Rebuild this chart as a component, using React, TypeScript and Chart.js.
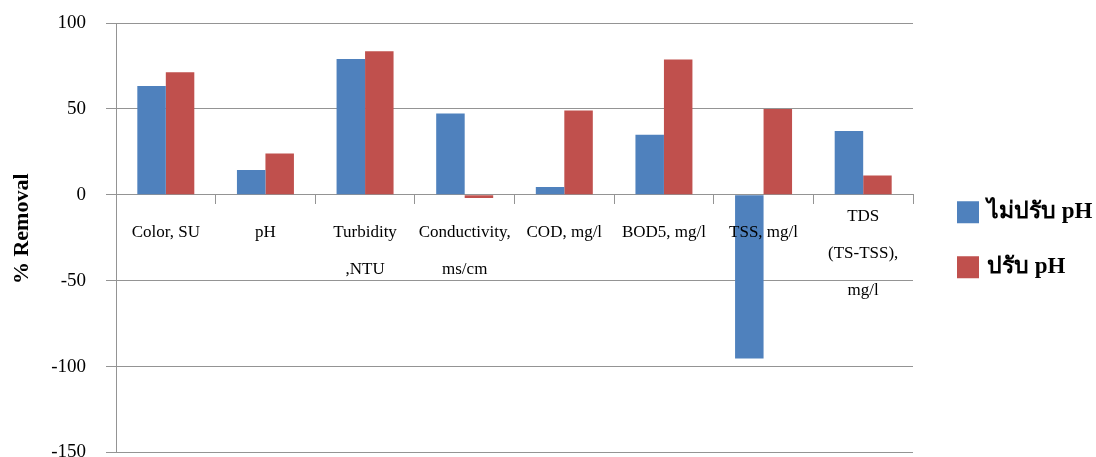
import React, { useEffect, useRef } from 'react';
import { Chart, registerables } from 'chart.js';

Chart.register(...registerables);

// Water-quality parameters (multi-line labels are arrays of lines)
const categories: string[][] = [
  ['Color, SU'],
  ['pH'],
  ['Turbidity', ',NTU'],
  ['Conductivity,', 'ms/cm'],
  ['COD, mg/l'],
  ['BOD5, mg/l'],
  ['TSS, mg/l'],
  ['TDS', '(TS-TSS),', 'mg/l'],
];

const seriesNames = ['ไม่ปรับ pH', 'ปรับ pH'];

// % removal without pH adjustment
const withoutPhAdjust = [63.4, 14.5, 79.1, 47.3, 4.5, 35.0, -95.3, 37.2];
// % removal with pH adjustment
const withPhAdjust = [71.3, 24.0, 83.5, -1.9, 49.0, 78.8, 50.0, 11.3];

const yTicks = [-150, -100, -50, 0, 50, 100];
const yTitle = '% Removal';

const BLUE = '#4F81BD';
const RED = '#C0504D';
const GRID = '#949494';
const SERIF = "'Liberation Serif', 'Times New Roman', serif";

// Category names are drawn just under the zero line
const categoryLabelPlugin = {
  id: 'categoryLabels',
  afterDraw(chart: any) {
    const { ctx } = chart;
    const xs = chart.scales.x;
    const ys = chart.scales.y;
    const zero = ys.getPixelForValue(0);
    ctx.save();
    ctx.font = `17px ${SERIF}`;
    ctx.fillStyle = '#000';
    ctx.textAlign = 'center';
    ctx.textBaseline = 'middle';
    categories.forEach((lines, i) => {
      const cx = xs.getPixelForValue(i);
      const top = lines.length > 2 ? zero + 22 : zero + 38;
      lines.forEach((line, j) => ctx.fillText(line, cx, top + j * 37));
    });
    ctx.restore();
  },
};

// Rotated axis title and the legend on the right
const sideTextPlugin = {
  id: 'sideText',
  afterDraw(chart: any) {
    const { ctx, chartArea } = chart;
    const midY = (chartArea.top + chartArea.bottom) / 2;
    ctx.save();
    ctx.fillStyle = '#000';
    ctx.font = `bold 22px ${SERIF}`;
    ctx.textAlign = 'center';
    ctx.textBaseline = 'middle';
    ctx.translate(22, midY - 9);
    ctx.rotate(-Math.PI / 2);
    ctx.fillText(yTitle, 0, 0);
    ctx.restore();

    ctx.save();
    const legendMid = midY + 2;
    chart.data.datasets.forEach((ds: any, i: number) => {
      const cy = legendMid + (i === 0 ? -27.5 : 27.5);
      const bx = chartArea.right + 44;
      ctx.fillStyle = ds.backgroundColor;
      ctx.fillRect(bx, cy - 11, 22, 22);
      ctx.fillStyle = '#000';
      ctx.font = `bold 23px ${SERIF}`;
      ctx.textAlign = 'left';
      ctx.textBaseline = 'middle';
      ctx.fillText(ds.label, bx + 30, cy);
    });
    ctx.restore();
  },
};

export default function App() {
  const canvasRef = useRef<HTMLCanvasElement>(null);

  useEffect(() => {
    const canvas = canvasRef.current;
    if (!canvas) return;
    const chart = new Chart(canvas, {
      type: 'bar',
      data: {
        labels: categories.map((l) => l.join(' ')),
        datasets: [
          { label: seriesNames[0], data: withoutPhAdjust, backgroundColor: BLUE },
          { label: seriesNames[1], data: withPhAdjust, backgroundColor: RED },
        ],
      },
      options: {
        animation: false,
        responsive: true,
        maintainAspectRatio: false,
        layout: { padding: { top: 23, right: 183, bottom: 4.5, left: 0 } },
        datasets: { bar: { categoryPercentage: 0.572, barPercentage: 1.0 } },
        plugins: { legend: { display: false }, tooltip: { enabled: false } },
        scales: {
          x: {
            position: { y: 0 } as any,
            grid: { drawOnChartArea: false, offset: true, tickLength: 9, color: GRID },
            border: { color: GRID },
            ticks: { display: false },
            afterFit: (s: any) => {
              s.height = 0;
              s.paddingLeft = 0;
              s.paddingRight = 0;
            },
          },
          y: {
            min: yTicks[0],
            max: yTicks[yTicks.length - 1],
            ticks: {
              stepSize: 50,
              padding: 20,
              color: '#000',
              font: { family: SERIF, size: 19 },
            },
            grid: { color: GRID, tickLength: 10 },
            border: { color: GRID },
            afterFit: (s: any) => {
              s.width = 116;
              s.paddingTop = 0;
              s.paddingBottom = 0;
            },
          },
        },
      },
      plugins: [categoryLabelPlugin, sideTextPlugin],
    });
    return () => chart.destroy();
  }, []);

  return (
    <div style={{ position: 'fixed', left: 0, top: 0, width: 1096, height: 457, background: '#fff' }}>
      <canvas ref={canvasRef} />
    </div>
  );
}
